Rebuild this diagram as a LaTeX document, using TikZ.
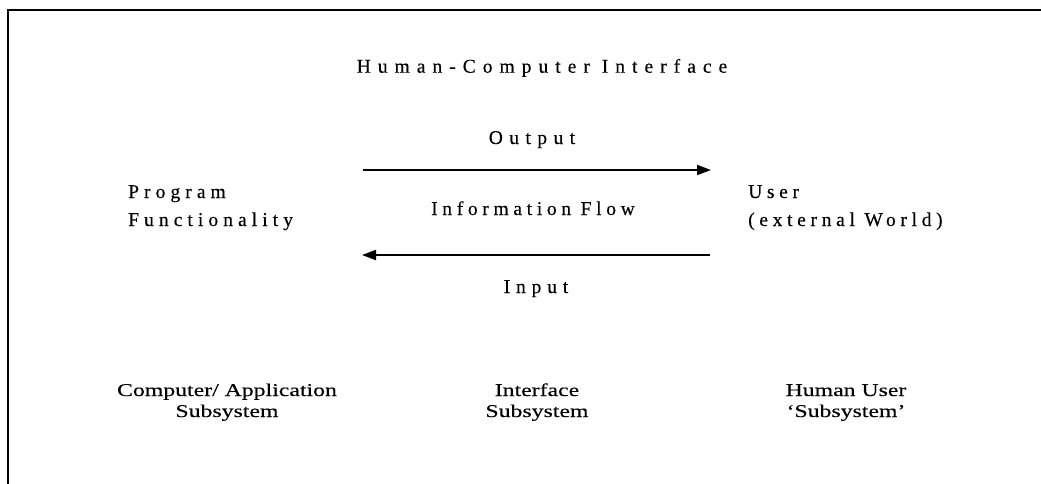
\documentclass[tikz,border=0pt]{standalone}
\usepackage{fontspec}
\setmainfont{Liberation Serif}
\newfontfamily\lblfont[Ligatures=TeX,FakeBold=0.3]{Liberation Serif}
\newfontfamily\widefont[Ligatures=TeX,FakeStretch=1.32,FakeBold=0.2]{Liberation Serif}
\usetikzlibrary{arrows.meta}
\begin{document}
\begin{tikzpicture}[x=1pt,y=-1pt,
  spc/.style={inner sep=0pt, font=\lblfont\fontsize{19.5}{28}\selectfont\addfontfeatures{LetterSpace=#1}},
  sub/.style={inner sep=0pt, align=center, font=\widefont\fontsize{18}{21}\selectfont},
  flow/.style={line width=2pt, -{Triangle[length=14pt,width=10pt]}}]
\useasboundingbox (0,0) rectangle (1041,484);
\draw[line width=2pt] (8,484) -- (8,10) -- (1041,10);
\node[spc=36, anchor=base] (title) at (542,72.7) {Human-Computer Interface};
\node[spc=33, anchor=base] (out) at (532,144) {Output};
\node[spc=24, anchor=base] (info) at (533,215) {Information Flow};
\node[spc=30, anchor=base] (in) at (536,293) {Input};
\node[spc=26, anchor=base west, align=left] (prog) at (128,226) {Program\\Functionality};
\node[spc=24, anchor=base west, align=left] (user) at (748,226) {User\\(external World)};
\coordinate (oL) at (363,170);
\coordinate (oR) at (711,170);
\coordinate (iL) at (362,255);
\coordinate (iR) at (710,255);
\draw[flow] (oL) -- (oR);
\draw[flow] (iR) -- (iL);
\node[sub, anchor=base] (comp) at (227,417) {Computer/ Application\\Subsystem};
\node[sub, anchor=base] (intf) at (537,417) {Interface\\Subsystem};
\node[sub, anchor=base] (human) at (846,417) {Human User\\‘Subsystem’};
\end{tikzpicture}
\end{document}
